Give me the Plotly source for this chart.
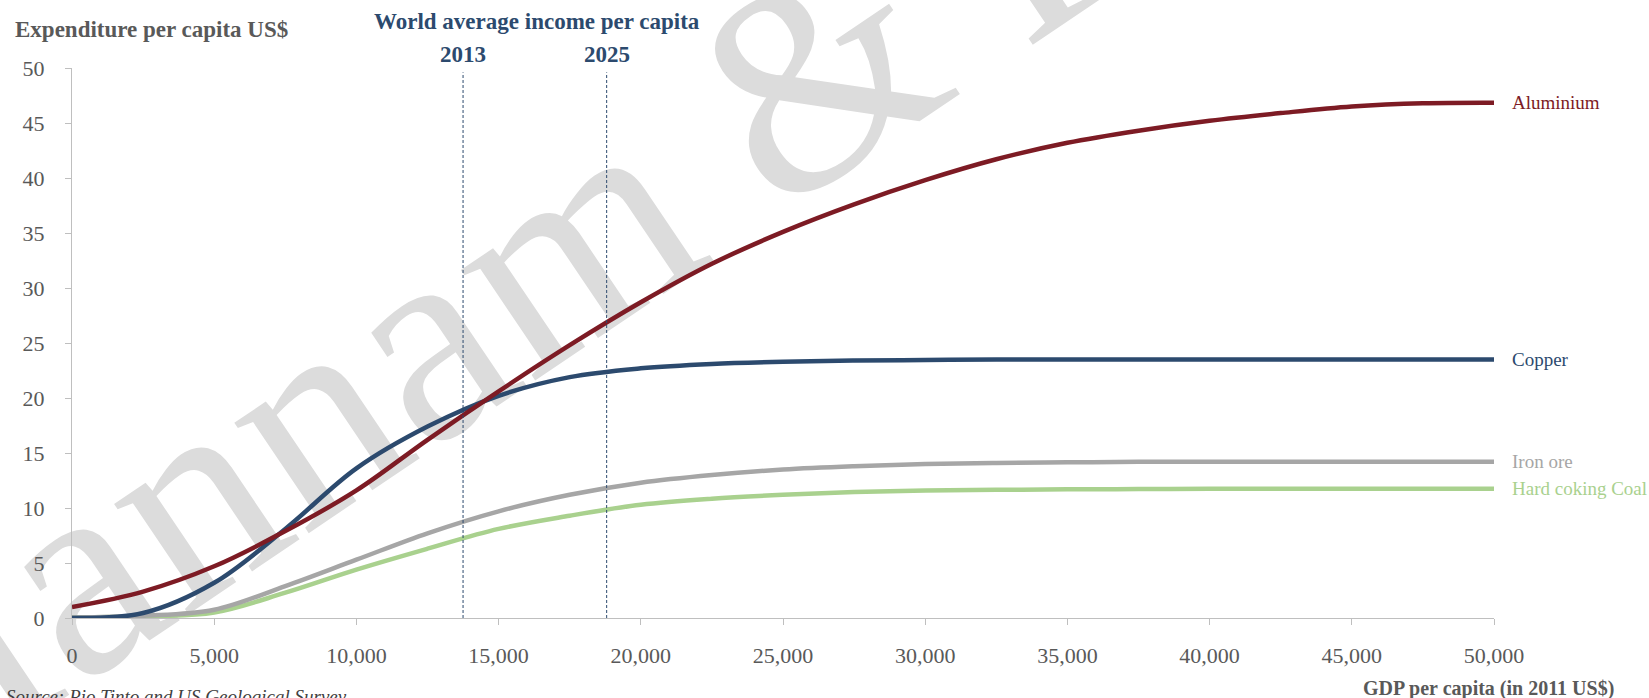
import plotly.graph_objects as go

# GDP per capita (2011 US$) sample points
gdp = [0, 2500, 5000, 7500, 10000, 12500, 15000, 17500, 20000, 22500, 25000,
       27500, 30000, 32500, 35000, 37500, 40000, 42500, 45000, 47500, 50000]

# Expenditure per capita (US$) by commodity
aluminium = [1.0, 2.4, 4.7, 7.9, 11.6, 16.2, 20.6, 24.8, 28.7, 32.2, 35.1,
             37.6, 39.8, 41.7, 43.2, 44.3, 45.2, 45.9, 46.5, 46.8, 46.85]
copper = [0.0, 0.45, 3.2, 8.1, 13.6, 17.4, 20.2, 21.9, 22.7, 23.1, 23.3,
          23.4, 23.45, 23.5, 23.5, 23.5, 23.5, 23.5, 23.5, 23.5, 23.5]
iron_ore = [0.05, 0.2, 0.75, 2.9, 5.3, 7.7, 9.7, 11.2, 12.3, 13.0, 13.5,
            13.8, 14.0, 14.1, 14.15, 14.2, 14.2, 14.2, 14.2, 14.2, 14.2]
coking_coal = [0.05, 0.15, 0.5, 2.3, 4.4, 6.3, 8.1, 9.3, 10.3, 10.85, 11.2,
               11.45, 11.6, 11.65, 11.7, 11.72, 11.75, 11.75, 11.75, 11.75, 11.75]

# World average income per capita markers
income_years = ["2013", "2025"]
income_levels = [13750, 18800]

series = [
    ("Hard coking Coal", coking_coal, "#a9d18e"),
    ("Iron ore", iron_ore, "#a6a6a6"),
    ("Copper", copper, "#2c4a6e"),
    ("Aluminium", aluminium, "#7d1b24"),
]

SERIF = "Liberation Serif, Times New Roman, serif"
GREY_TXT = "#595959"
NAVY = "#2c4a6e"

fig = go.Figure()
for name, vals, color in series:
    fig.add_trace(go.Scatter(
        x=gdp, y=vals, mode="lines", name=name,
        line=dict(color=color, width=4.5, shape="spline", smoothing=1.0),
        hoverinfo="skip",
    ))
    fig.add_annotation(
        x=gdp[-1], y=vals[-1], xref="x", yref="y", text=name,
        showarrow=False, xanchor="left", yanchor="middle", xshift=16,
        font=dict(family=SERIF, size=19, color=color),
    )

# Watermark, kept beneath the data
fig.add_shape(
    type="line", xref="paper", yref="paper",
    x0=0.4914, x1=0.5114, y0=1.0224, y1=1.0224,
    line=dict(width=0, color="rgba(0,0,0,0)"), layer="below",
    label=dict(text="Hannam & Partners", textangle=-34,
               textposition="middle", xanchor="center", yanchor="middle",
               font=dict(family=SERIF, size=290, color="#dcdcdc")),
)

# Dashed markers for world average income
for yr, lvl in zip(income_years, income_levels):
    fig.add_shape(
        type="line", xref="x", yref="y", x0=lvl, x1=lvl, y0=0, y1=49.6,
        line=dict(color=NAVY, width=1, dash="3px,2px"), layer="above",
    )
    fig.add_annotation(
        x=lvl, y=1.0242, xref="x", yref="paper", text=f"<b>{yr}</b>",
        showarrow=False, xanchor="center", yanchor="middle",
        font=dict(family=SERIF, size=23, color=NAVY),
    )

fig.add_annotation(
    x=0.327, y=1.0842, xref="paper", yref="paper",
    text="<b>World average income per capita</b>",
    showarrow=False, xanchor="center", yanchor="middle",
    font=dict(family=SERIF, size=23, color=NAVY),
)
fig.add_annotation(
    x=-0.0415, y=1.0705, xref="paper", yref="paper",
    text="<b>Expenditure per capita US$</b>",
    showarrow=False, xanchor="left", yanchor="middle",
    font=dict(family=SERIF, size=23, color=GREY_TXT),
)
fig.add_annotation(
    x=1.0861, y=-0.1285, xref="paper", yref="paper",
    text="<b>GDP per capita (in 2011 US$)</b>",
    showarrow=False, xanchor="right", yanchor="middle",
    font=dict(family=SERIF, size=20, color=GREY_TXT),
)
fig.add_annotation(
    x=-0.048, y=-0.1195, xref="paper", yref="paper",
    text="<i>Source: Rio Tinto and US Geological Survey</i>",
    showarrow=False, xanchor="left", yanchor="top",
    font=dict(family=SERIF, size=19, color="#404040"),
)

fig.update_xaxes(
    range=[0, 50000], tickvals=list(range(0, 50001, 5000)), tickformat=",",
    showgrid=False, zeroline=False, showline=True, linecolor="#bfbfbf",
    linewidth=1, ticks="outside", ticklen=6, tickcolor="#bfbfbf",
    ticklabelstandoff=12,
    tickfont=dict(family=SERIF, size=22, color=GREY_TXT),
)
fig.update_yaxes(
    range=[0, 50], tickvals=list(range(0, 51, 5)),
    showgrid=False, zeroline=False, showline=True, linecolor="#bfbfbf",
    linewidth=1, ticks="outside", ticklen=6, tickcolor="#bfbfbf",
    ticklabelstandoff=16,
    tickfont=dict(family=SERIF, size=22, color=GREY_TXT),
)
fig.update_layout(
    width=1649, height=698, autosize=False,
    margin=dict(l=72, r=155, t=68, b=80),
    paper_bgcolor="white", plot_bgcolor="white",
    showlegend=False,
)

fig.write_html("out.html")
